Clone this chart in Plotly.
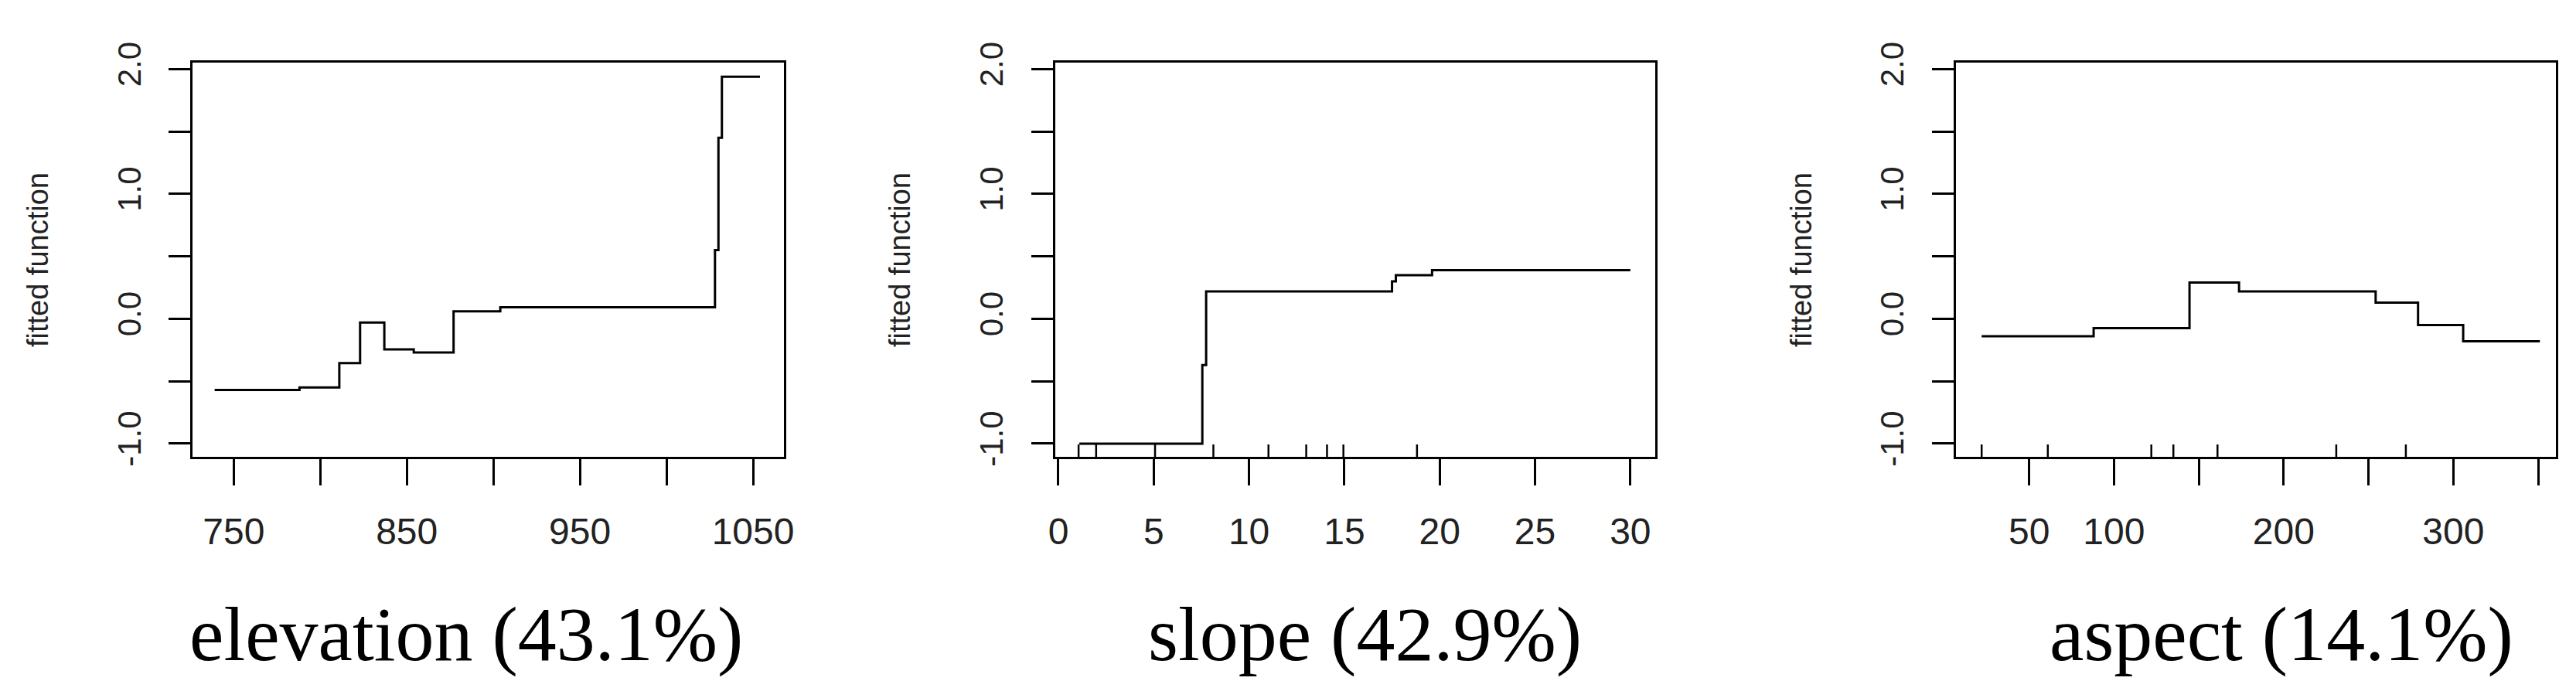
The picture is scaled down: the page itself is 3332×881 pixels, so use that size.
import plotly.graph_objects as go

# elevation partial dependence (step function)
elev_x = [739, 788, 811, 823, 837, 854, 877, 904, 1028, 1030, 1032, 1054]
elev_y = [-0.57, -0.55, -0.355, -0.03, -0.245, -0.27, 0.06, 0.093, 0.55, 1.45, 1.94, 1.94]

slope_x = [1.1, 7.55, 7.75, 17.5, 17.7, 19.6, 30.0]
slope_y = [-1.0, -0.37, 0.22, 0.30, 0.35, 0.39, 0.39]
slope_rug = [1.06, 1.98, 5.07, 8.13, 11.02, 13.0, 14.09, 14.95, 18.81]

aspect_x = [22, 88, 144.5, 173.7, 254.2, 279.2, 305.8, 351]
aspect_y = [-0.14, -0.075, 0.29, 0.22, 0.13, -0.05, -0.18, -0.18]
aspect_rug = [22, 61, 122, 135, 161, 231, 272]

titles = ["elevation (43.1%)", "slope (42.9%)", "aspect (14.1%)"]
title_x = [590, 1760, 2953]

y_vals = [-1, -0.5, 0, 0.5, 1, 1.5, 2]
y_text = ["-1.0", "", "0.0", "", "1.0", "", "2.0"]
YR = [-1.107, 2.053]

fig = go.Figure()
W, H = 3332, 881
domains = [[234 / W, 1004 / W], [1357 / W, 2138 / W], [2530 / W, 3311 / W]]
ydom = [1 - 582 / H, 1 - 48 / H]

xcfg = [
    dict(range=[726.4, 1068], tickvals=[750, 800, 850, 900, 950, 1000, 1050],
         ticktext=["750", "", "850", "", "950", "", "1050"]),
    dict(range=[-0.16, 31.3], tickvals=[0, 5, 10, 15, 20, 25, 30],
         ticktext=["0", "5", "10", "15", "20", "25", "30"]),
    dict(range=[7, 360.5], tickvals=[50, 100, 150, 200, 250, 300, 350],
         ticktext=["50", "100", "", "200", "", "300", ""]),
]
series = [(elev_x, elev_y, []), (slope_x, slope_y, slope_rug), (aspect_x, aspect_y, aspect_rug)]

for i, (sx, sy, rug) in enumerate(series):
    n = "" if i == 0 else str(i + 1)
    fig.add_trace(go.Scatter(x=sx, y=sy, mode="lines", line=dict(color="black", width=3, shape="hv"),
                             xaxis="x" + n, yaxis="y" + n, showlegend=False))
    for r in rug:
        fig.add_trace(go.Scatter(x=[r, r], y=[YR[0], YR[0] + 0.1], mode="lines",
                                 line=dict(color="black", width=2.5), xaxis="x" + n, yaxis="y" + n,
                                 showlegend=False))
    fig.layout["xaxis" + n] = dict(domain=domains[i], anchor="y" + n, showgrid=False, zeroline=False,
                                   showline=True, mirror=True, linecolor="black", linewidth=3,
                                   ticks="outside", ticklen=34, tickwidth=3, tickcolor="black",
                                   ticklabelstandoff=18,
                                   tickfont=dict(family="Liberation Sans Narrow, Arial", size=48, color="#222"),
                                   **xcfg[i])
    fig.layout["yaxis" + n] = dict(domain=ydom, anchor="x" + n, range=YR, showgrid=False, zeroline=False,
                                   showline=True, mirror=True, linecolor="black", linewidth=3,
                                   ticks="outside", ticklen=28, tickwidth=3, tickcolor="black",
                                   tickvals=y_vals, ticktext=y_text, tickangle=-90, ticklabelstandoff=20,
                                   tickfont=dict(family="Liberation Sans, Arial", size=42, color="#222"),
                                   title=dict(text="fitted function", standoff=70,
                                              font=dict(family="Liberation Sans, Arial", size=38, color="#222")))
    fig.add_annotation(x=title_x[i] / W, y=1 - 822 / H, xref="paper", yref="paper", text=titles[i],
                       xanchor="center", yanchor="middle", showarrow=False,
                       font=dict(family="Liberation Serif, Times New Roman", size=100, color="black"))

fig.update_layout(width=W, height=H, margin=dict(l=0, r=0, t=0, b=0),
                  plot_bgcolor="white", paper_bgcolor="white")
fig.write_html("out.html")
